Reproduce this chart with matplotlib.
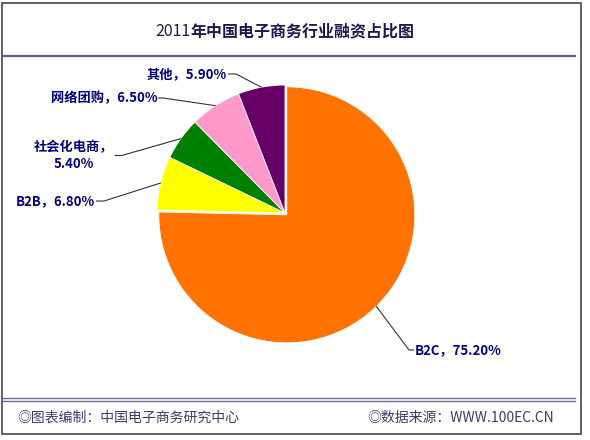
import numpy as np
import matplotlib
matplotlib.use("Agg")
import matplotlib.pyplot as plt
from matplotlib.patches import Rectangle
from matplotlib.lines import Line2D

plt.rcParams['font.family'] = ['Noto Sans CJK SC', 'DejaVu Sans']

# data
categories = ['B2C', 'B2B', '社会化电商', '网络团购', '其他']
shares = [75.20, 6.80, 5.40, 6.50, 5.90]
colors = ['#ff7200', '#ffff00', '#008000', '#ff99cc', '#660066']
label_texts = ['B2C，75.20%', 'B2B，6.80%', '社会化电商，\n5.40%', '网络团购，6.50%', '其他，5.90%']

W, H = 590, 440
NAVY = '#000080'


def fx(x):
    return x / W


def fy(y):
    return 1 - y / H


def main():
    fig = plt.figure(figsize=(W / 100, H / 100), dpi=100)
    fig.patch.set_facecolor('white')

    # outer frame, title rule, footer double rule
    fig.patches.append(Rectangle((fx(2), fy(434)), fx(581) - fx(2), fy(3) - fy(434),
                                 transform=fig.transFigure, fill=False,
                                 edgecolor='#555555', linewidth=1.3))
    fig.lines.append(Line2D([fx(3), fx(575)], [fy(56.5), fy(56.5)],
                            transform=fig.transFigure, color='#5a5a8c', linewidth=1.6))
    for yy in (398, 401):
        fig.lines.append(Line2D([fx(3), fx(575)], [fy(yy), fy(yy)],
                                transform=fig.transFigure, color='#6a6a98', linewidth=1.0))

    # title: "2011" regular, rest bold
    t1 = fig.text(fx(190), fy(31), '2011', ha='right', va='center',
                  fontsize=11.5, color='#1a1a50')
    fig.add_artist(matplotlib.text.Annotation(
        '年中国电子商务行业融资占比图', xy=(1, 0), xycoords=t1, ha='left', va='bottom',
        fontsize=11.5, fontweight='bold', color='#1a1a50'))

    # footer
    fig.text(fx(17), fy(418), '◎图表编制：中国电子商务研究中心', ha='left', va='center',
             fontsize=10, color='#3c3c6c')
    fig.text(fx(461), fy(418), '◎数据来源：WWW.100EC.CN', ha='center', va='center',
             fontsize=10, color='#3c3c6c')

    # pie
    cx, cy, r = 285, 213, 128
    ax = fig.add_axes([fx(cx - r), fy(cy + r), 2 * r / W, 2 * r / H])
    explode = [0.02, 0, 0, 0, 0]
    wedges, _ = ax.pie(shares, colors=colors, startangle=90, counterclock=False,
                       explode=explode, radius=1,
                       wedgeprops=dict(edgecolor='white', linewidth=0.6))
    ax.set_xlim(-1, 1)
    ax.set_ylim(-1, 1)
    ax.set_aspect('equal')
    ax.axis('off')

    # label placement (pixel coords, top-left origin) and leader directions
    label_pos = [(415, 350), (95, 201), (74, 155.5), (157, 98), (227, 74)]
    label_ha = ['left', 'right', 'center', 'right', 'right']
    relpos = [(0, 0.5), (1, 0.5), (1, 0.5), (1, 0.5), (1, 0.5)]
    arm_dir = [180, 0, 0, 0, 0]
    arm_len = [6, 9, 8, 6, 9]

    for i, w in enumerate(wedges):
        ang = np.deg2rad((w.theta1 + w.theta2) / 2)
        px = w.center[0] + w.r * np.cos(ang)
        py = w.center[1] + w.r * np.sin(ang)
        tx, ty = label_pos[i]
        ax.annotate(label_texts[i], xy=(px, py), xycoords='data',
                    xytext=(tx, H - ty), textcoords='figure pixels',
                    ha=label_ha[i], va='center', multialignment='center',
                    fontsize=9.5, fontweight='bold', color=NAVY,
                    annotation_clip=False,
                    arrowprops=dict(arrowstyle='-', color='#333333', linewidth=0.8,
                                    patchA=None, shrinkA=1, shrinkB=0, relpos=relpos[i],
                                    connectionstyle='arc,angleA=%d,armA=%d,angleB=0,armB=0,rad=0'
                                    % (arm_dir[i], arm_len[i])))

    fig.savefig('out.png', dpi=100)
    plt.close(fig)


if __name__ == '__main__':
    main()
